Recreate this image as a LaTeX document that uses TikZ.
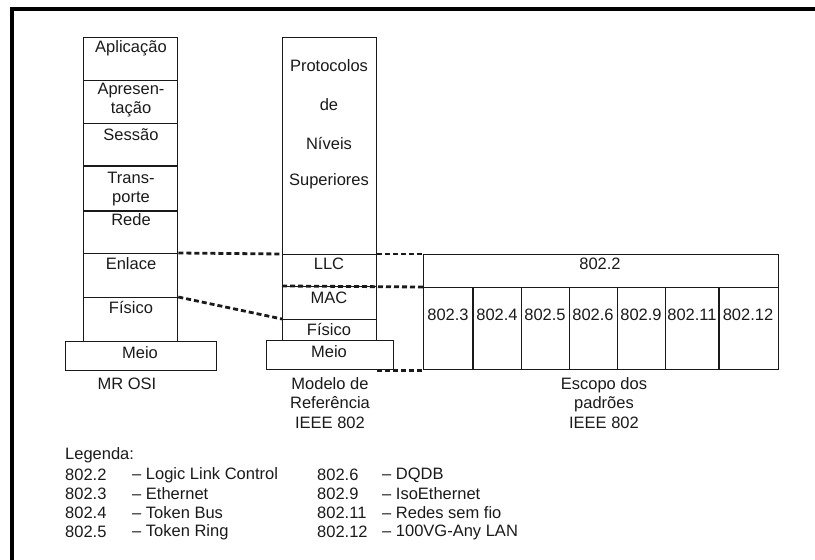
\documentclass[tikz,border=0pt]{standalone}
\usepackage{fontspec}
\setmainfont{Liberation Sans}
\usetikzlibrary{calc}
\definecolor{ink}{HTML}{1A1A1A}
\tikzset{
  box/.style={draw=ink, line width=1.3pt, rectangle, inner sep=0pt, anchor=north west},
  txt/.style={text=ink, inner sep=0pt, font=\fontsize{16.5}{19.5}\selectfont, align=center},
  leg/.style={text=ink, inner sep=0pt, anchor=west, font=\fontsize{16.5}{19}\selectfont},
  dots/.style={draw=ink, line width=2.8pt, dash pattern=on 5pt off 3pt},
  frame/.style={draw=black, line width=4pt}
}
\begin{document}
\begin{tikzpicture}[x=1pt, y=-1pt]
\useasboundingbox (0,0) rectangle (815,560);
% frame
\draw[frame] (10,9) -- (815,9);
\draw[frame] (12,7) -- (12,560);

% OSI stack
\node[box, minimum width=94pt, minimum height=43pt] (apl) at (83,37) {};
\node[box, minimum width=94pt, minimum height=43pt] (apr) at (83,80) {};
\node[box, minimum width=94pt, minimum height=43pt] (ses) at (83,123) {};
\node[box, minimum width=94pt, minimum height=45pt] (tra) at (83,166) {};
\node[box, minimum width=94pt, minimum height=42pt] (red) at (83,211) {};
\node[box, minimum width=94pt, minimum height=44pt] (enl) at (83,253) {};
\node[box, minimum width=94pt, minimum height=44pt] (fis) at (83,297) {};
\draw[draw=ink, line width=2.4pt] (tra.north west) -- (tra.north east);
\draw[draw=ink, line width=2.4pt] (red.north west) -- (red.north east);
\node[box, minimum width=151pt, minimum height=29pt] (meio1) at (65,341) {};

\node[txt] (tapl) at (131,48) {Aplicação};
\node[txt] (tapr) at (131,100) {Apresen-\\tação};
\node[txt] (tses) at (131,135) {Sessão};
\node[txt] (ttra) at (131,189) {Trans-\\porte};
\node[txt] (tred) at (131,220) {Rede};
\node[txt] (tenl) at (131,264) {Enlace};
\node[txt] (tfis) at (131,308) {Físico};
\node[txt] (tmeio1) at (140,353) {Meio};
\node[txt] (tosi) at (127,384) {MR OSI};

% IEEE 802 model
\node[box, minimum width=94pt, minimum height=217pt] (prot) at (282,37) {};
\node[box, minimum width=94pt, minimum height=32pt] (llc) at (282,254) {};
\node[box, minimum width=94pt, minimum height=33pt] (mac) at (282,286) {};
\node[box, minimum width=94pt, minimum height=21pt] (mfis) at (282,319) {};
\node[box, minimum width=127pt, minimum height=29pt, fill=white] (meio2) at (266,340) {};

\node[txt] (tprot) at (329,66) {Protocolos};
\node[txt] (tde) at (329,105) {de};
\node[txt] (tniv) at (329,144) {Níveis};
\node[txt] (tsup) at (329,181) {Superiores};
\node[txt] (tllc) at (329,264) {LLC};
\node[txt] (tmac) at (329,298) {MAC};
\node[txt] (tmfis) at (329,330) {Físico};
\node[txt] (tmeio2) at (329,352) {Meio};
\node[txt] (tmodel) at (330,403) {Modelo de\\Referência\\IEEE 802};

% scope block
\node[box, minimum width=355pt, minimum height=33pt] (r22) at (423,254) {};
\node[box, minimum width=50pt, minimum height=82pt] (r3) at (423,287) {};
\node[box, minimum width=48pt, minimum height=82pt] (r4) at (473,287) {};
\node[box, minimum width=48pt, minimum height=82pt] (r5) at (521,287) {};
\node[box, minimum width=48pt, minimum height=82pt] (r6) at (569,287) {};
\node[box, minimum width=48pt, minimum height=82pt] (r9) at (617,287) {};
\node[box, minimum width=54pt, minimum height=82pt] (r11) at (665,287) {};
\node[box, minimum width=59pt, minimum height=82pt] (r12) at (719,287) {};
\draw[draw=ink, line width=2.4pt] (r4.north west) -- (r4.south west);
\draw[draw=ink, line width=2.4pt] (r12.north west) -- (r12.south west);

\node[txt] (t22) at (600,264) {802.2};
\node[txt] (t3) at (448,315) {802.3};
\node[txt] (t4) at (497,315) {802.4};
\node[txt] (t5) at (545,315) {802.5};
\node[txt] (t6) at (593,315) {802.6};
\node[txt] (t9) at (641,315) {802.9};
\node[txt] (t11) at (692,315) {802.11};
\node[txt] (t12) at (748,315) {802.12};
\node[txt] (tesc) at (604,403) {Escopo dos\\padrões\\IEEE 802};

% dotted connectors
\draw[dots] (enl.north east) -- (llc.north west);
\draw[dots] (fis.north east) -- (mfis.north west);
\draw[dots] (llc.north east) -- (r22.north west);
\draw[dots] (mac.north west) -- (r3.north west);
\coordinate (mb) at (meio2.south -| llc.east);
\draw[dots] (mb) -- (r3.south west);

% legend
\node[leg] (lg) at (65,455) {Legenda:};
\node[leg] (l2a) at (65,475) {802.2};
\node[leg] (l2b) at (132,475) {– Logic Link Control};
\node[leg] (l3a) at (65,494) {802.3};
\node[leg] (l3b) at (132,494) {– Ethernet};
\node[leg] (l4a) at (65,513) {802.4};
\node[leg] (l4b) at (132,513) {– Token Bus};
\node[leg] (l5a) at (65,532) {802.5};
\node[leg] (l5b) at (132,532) {– Token Ring};
\node[leg] (l6a) at (317,475) {802.6};
\node[leg] (l6b) at (382,475) {– DQDB};
\node[leg] (l9a) at (317,494) {802.9};
\node[leg] (l9b) at (382,494) {– IsoEthernet};
\node[leg] (l11a) at (317,513) {802.11};
\node[leg] (l11b) at (382,513) {– Redes sem fio};
\node[leg] (l12a) at (317,532) {802.12};
\node[leg] (l12b) at (382,532) {– 100VG-Any LAN};
\end{tikzpicture}
\end{document}
